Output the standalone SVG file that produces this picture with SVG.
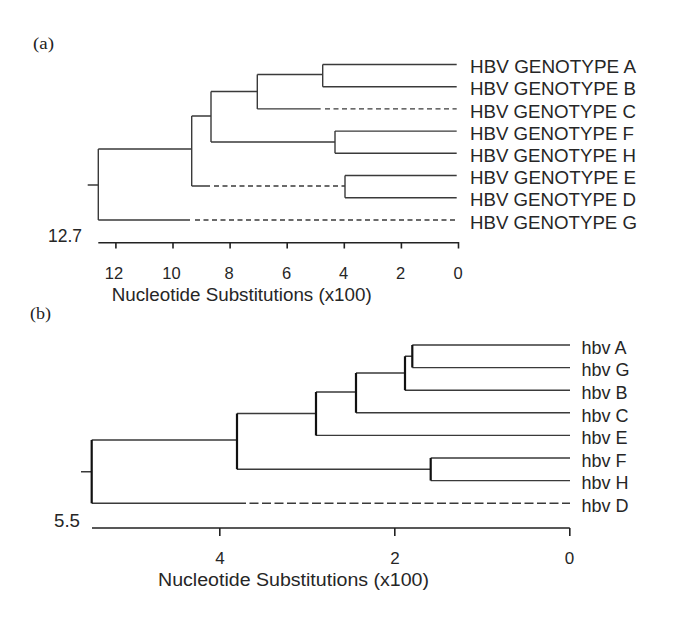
<svg xmlns="http://www.w3.org/2000/svg" width="685" height="636" viewBox="0 0 685 636">
<style>
.br{fill:none;stroke:#3a3a3a;stroke-width:1.4}
.da{fill:none;stroke:#3a3a3a;stroke-width:1.4;stroke-dasharray:5 3.5}
.db{fill:none;stroke:#3a3a3a;stroke-width:1.4;stroke-dasharray:9 3.5}
.vb{fill:none;stroke:#111;stroke-width:2.2}
.ax{fill:none;stroke:#222;stroke-width:1.6}
.lbl{font-family:"Liberation Sans",Arial,sans-serif;fill:#262626}
.pan{font-family:"Liberation Serif","Times New Roman",serif;font-size:16px;fill:#222}
</style>
<rect width="685" height="636" fill="#fff"/>
<text class="pan" x="33" y="49" textLength="21" lengthAdjust="spacingAndGlyphs">(a)</text>
<text class="pan" x="30" y="319" textLength="21" lengthAdjust="spacingAndGlyphs">(b)</text>

<g id="connectors">
<g id="tree-a">
<path class="br" d="M87.7,185H98.3M98.3,149V220M98.3,149H191.7M98.3,220H190"/>
<path class="da" d="M195,220H456.7"/>
<path class="br" d="M191.7,116V186M191.7,116H211M191.7,186H210"/>
<path class="da" d="M214,186H345"/>
<path class="br" d="M211,91.5V142M211,91.5H257.3M211,142H335"/>
<path class="br" d="M257.3,74.5V108.9M257.3,74.5H322.7M257.3,108.9H320.7"/>
<path class="da" d="M325,108.9H456.7"/>
<path class="br" d="M322.7,64.5V86.7M322.7,64.5H456.7M322.7,86.7H456.7"/>
<path class="br" d="M335,131.1V153.3M335,131.1H456.7M335,153.3H456.7"/>
<path class="br" d="M345,175.5V197.7M345,175.5H456.7M345,197.7H456.7"/>
</g>
<g id="tree-b">
<path class="br" d="M81,471.7H91.7M91.7,440H237M91.7,503.2H237"/>
<path class="db" d="M237,503.2H570"/>
<path class="br" d="M237,413.5H316M237,469.3H430.7M316,392H356M316,435.4H570M356,373H405M356,412.8H570M405,356.3H412.3M405,390.2H570M412.3,345H570M412.3,367.6H570M430.7,458H570M430.7,480.6H570"/>
<path class="vb" d="M91.7,440V503.2M237,413.5V469.3M316,392V435.4M356,373V412.8M405,356.3V390.2M412.3,345V367.6M430.7,458V480.6"/>
</g>
</g>

<g id="leaves-a" class="lbl" font-size="17.5">
<g id="leaf-a-A"><text x="470" y="73.2" textLength="166" lengthAdjust="spacingAndGlyphs">HBV GENOTYPE A</text></g>
<g id="leaf-a-B"><text x="470" y="95.4" textLength="166" lengthAdjust="spacingAndGlyphs">HBV GENOTYPE B</text></g>
<g id="leaf-a-C"><text x="470" y="117.6" textLength="166" lengthAdjust="spacingAndGlyphs">HBV GENOTYPE C</text></g>
<g id="leaf-a-F"><text x="470" y="139.8" textLength="164" lengthAdjust="spacingAndGlyphs">HBV GENOTYPE F</text></g>
<g id="leaf-a-H"><text x="470" y="162" textLength="166" lengthAdjust="spacingAndGlyphs">HBV GENOTYPE H</text></g>
<g id="leaf-a-E"><text x="470" y="184.2" textLength="166" lengthAdjust="spacingAndGlyphs">HBV GENOTYPE E</text></g>
<g id="leaf-a-D"><text x="470" y="206.4" textLength="166" lengthAdjust="spacingAndGlyphs">HBV GENOTYPE D</text></g>
<g id="leaf-a-G"><text x="470" y="228.6" textLength="167" lengthAdjust="spacingAndGlyphs">HBV GENOTYPE G</text></g>
</g>

<g id="axis-a">
<path class="ax" d="M98.3,242.7H459.3M115.9,242.7V248.5M173,242.7V248.5M230.1,242.7V248.5M287.2,242.7V248.5M344.3,242.7V248.5M401.4,242.7V248.5M458.5,242.7V248.5"/>
<g class="lbl" font-size="16.5" text-anchor="middle">
<text x="114" y="278.5">12</text>
<text x="171.5" y="278.5">10</text>
<text x="229" y="278.5">8</text>
<text x="286.5" y="278.5">6</text>
<text x="343.5" y="278.5">4</text>
<text x="400.5" y="278.5">2</text>
<text x="458" y="278.5">0</text>
</g>
<text class="lbl" font-size="18" x="111.7" y="300.5" textLength="260" lengthAdjust="spacingAndGlyphs">Nucleotide Substitutions (x100)</text>
<text class="lbl" font-size="17.5" x="48" y="242" textLength="34" lengthAdjust="spacingAndGlyphs">12.7</text>
</g>

<g id="leaves-b" class="lbl" font-size="18">
<g id="leaf-b-A"><text x="581.5" y="353.7">hbv A</text></g>
<g id="leaf-b-G"><text x="581.5" y="376.3">hbv G</text></g>
<g id="leaf-b-B"><text x="581.5" y="398.9">hbv B</text></g>
<g id="leaf-b-C"><text x="581.5" y="421.5">hbv C</text></g>
<g id="leaf-b-E"><text x="581.5" y="444.1">hbv E</text></g>
<g id="leaf-b-F"><text x="581.5" y="466.7">hbv F</text></g>
<g id="leaf-b-H"><text x="581.5" y="489.3">hbv H</text></g>
<g id="leaf-b-D"><text x="581.5" y="511.9">hbv D</text></g>
</g>

<g id="axis-b">
<path class="ax" d="M92,528H569.8M219.8,528V536M394.8,528V536M569.8,528V536"/>
<g class="lbl" font-size="17" text-anchor="middle">
<text x="220" y="563.5">4</text>
<text x="395" y="563.5">2</text>
<text x="569.5" y="563.5">0</text>
</g>
<text class="lbl" font-size="18" x="158" y="586" textLength="271" lengthAdjust="spacingAndGlyphs">Nucleotide Substitutions (x100)</text>
<text class="lbl" font-size="18" x="54" y="527" textLength="26" lengthAdjust="spacingAndGlyphs">5.5</text>
</g>
</svg>
